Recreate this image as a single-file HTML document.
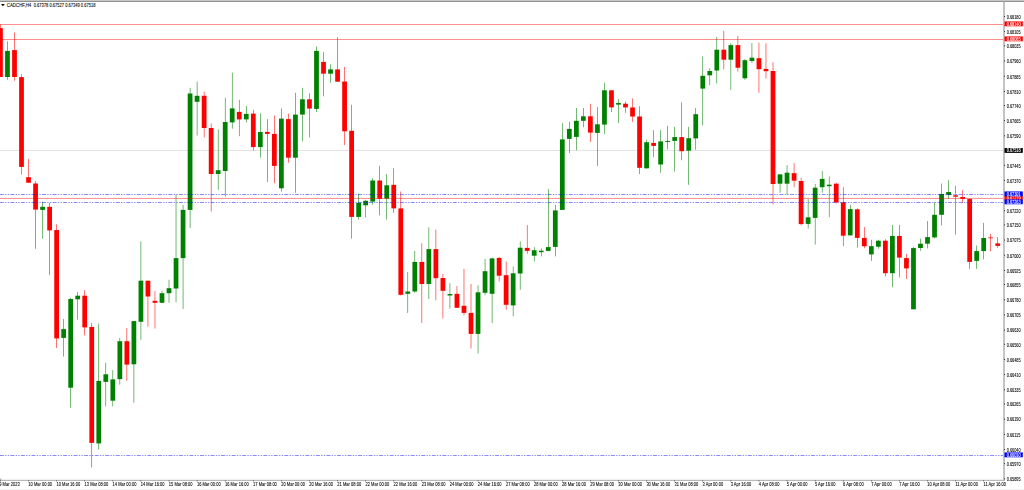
<!DOCTYPE html><html><head><meta charset="utf-8"><title>CADCHF,H4</title>
<style>html,body{margin:0;padding:0;background:#fff;overflow:hidden}svg{display:block}text{font-family:"Liberation Sans",sans-serif;font-size:4.05px;fill:#000;stroke:#000;stroke-width:0.07px}</style></head><body>
<svg width="1024" height="490" viewBox="0 0 1024 490">
<rect x="0" y="0" width="1024" height="490" fill="#fff"/>
<rect x="0" y="0" width="1024" height="1.0" fill="#c6c6c6"/>
<rect x="0" y="1.0" width="1024" height="0.75" fill="#6c6c6c"/>
<rect x="0" y="489" width="1024" height="1" fill="#f0f0f0"/>
<line x1="0" y1="150.45" x2="1004.00" y2="150.45" stroke="#c0c0c0" stroke-width="0.45"/>
<g>
<rect x="0.17" y="24.50" width="0.55" height="52.50" fill="#ff0000"/>
<rect x="-1.93" y="28.10" width="4.75" height="48.90" fill="#ff0000"/>
<rect x="7.20" y="41.30" width="0.55" height="38.40" fill="#008000"/>
<rect x="5.10" y="50.90" width="4.75" height="26.10" fill="#008000"/>
<rect x="14.22" y="32.30" width="0.55" height="48.50" fill="#ff0000"/>
<rect x="12.12" y="50.10" width="4.75" height="26.90" fill="#ff0000"/>
<rect x="21.24" y="74.10" width="0.55" height="100.40" fill="#ff0000"/>
<rect x="19.14" y="77.10" width="4.75" height="89.80" fill="#ff0000"/>
<rect x="28.27" y="158.90" width="0.55" height="23.80" fill="#ff0000"/>
<rect x="26.17" y="177.20" width="4.75" height="5.50" fill="#ff0000"/>
<rect x="35.29" y="181.00" width="0.55" height="67.80" fill="#ff0000"/>
<rect x="33.19" y="183.50" width="4.75" height="26.10" fill="#ff0000"/>
<rect x="42.31" y="201.60" width="0.55" height="37.10" fill="#008000"/>
<rect x="40.21" y="206.80" width="4.75" height="3.10" fill="#008000"/>
<rect x="49.34" y="202.80" width="0.55" height="72.40" fill="#ff0000"/>
<rect x="47.24" y="206.80" width="4.75" height="23.60" fill="#ff0000"/>
<rect x="56.36" y="224.20" width="0.55" height="123.80" fill="#ff0000"/>
<rect x="54.26" y="230.00" width="4.75" height="108.40" fill="#ff0000"/>
<rect x="63.38" y="319.00" width="0.55" height="37.50" fill="#008000"/>
<rect x="61.28" y="329.10" width="4.75" height="8.80" fill="#008000"/>
<rect x="70.41" y="297.80" width="0.55" height="109.90" fill="#008000"/>
<rect x="68.31" y="299.00" width="4.75" height="88.70" fill="#008000"/>
<rect x="77.43" y="292.00" width="0.55" height="27.60" fill="#008000"/>
<rect x="75.33" y="295.70" width="4.75" height="3.60" fill="#008000"/>
<rect x="84.45" y="290.20" width="0.55" height="45.20" fill="#ff0000"/>
<rect x="82.35" y="295.70" width="4.75" height="31.70" fill="#ff0000"/>
<rect x="91.48" y="322.90" width="0.55" height="144.60" fill="#ff0000"/>
<rect x="89.38" y="326.90" width="4.75" height="116.00" fill="#ff0000"/>
<rect x="98.50" y="323.60" width="0.55" height="126.00" fill="#008000"/>
<rect x="96.40" y="380.90" width="4.75" height="62.50" fill="#008000"/>
<rect x="105.52" y="362.60" width="0.55" height="43.90" fill="#008000"/>
<rect x="103.42" y="374.30" width="4.75" height="7.60" fill="#008000"/>
<rect x="112.55" y="370.10" width="0.55" height="36.40" fill="#008000"/>
<rect x="110.45" y="379.40" width="4.75" height="21.30" fill="#008000"/>
<rect x="119.57" y="337.90" width="0.55" height="46.70" fill="#008000"/>
<rect x="117.47" y="341.20" width="4.75" height="37.90" fill="#008000"/>
<rect x="126.59" y="327.90" width="0.55" height="53.00" fill="#ff0000"/>
<rect x="124.49" y="341.20" width="4.75" height="23.40" fill="#ff0000"/>
<rect x="133.62" y="321.10" width="0.55" height="81.60" fill="#008000"/>
<rect x="131.52" y="321.10" width="4.75" height="43.20" fill="#008000"/>
<rect x="140.64" y="241.30" width="0.55" height="98.60" fill="#008000"/>
<rect x="138.54" y="280.70" width="4.75" height="41.10" fill="#008000"/>
<rect x="147.66" y="280.70" width="0.55" height="45.90" fill="#ff0000"/>
<rect x="145.56" y="280.70" width="4.75" height="15.80" fill="#ff0000"/>
<rect x="154.69" y="291.00" width="0.55" height="37.60" fill="#ff0000"/>
<rect x="152.59" y="300.80" width="4.75" height="2.00" fill="#ff0000"/>
<rect x="161.71" y="290.70" width="0.55" height="12.10" fill="#008000"/>
<rect x="159.61" y="293.20" width="4.75" height="9.60" fill="#008000"/>
<rect x="168.73" y="279.70" width="0.55" height="23.10" fill="#008000"/>
<rect x="166.63" y="288.20" width="4.75" height="5.00" fill="#008000"/>
<rect x="175.75" y="194.50" width="0.55" height="107.80" fill="#008000"/>
<rect x="173.66" y="258.10" width="4.75" height="30.40" fill="#008000"/>
<rect x="182.78" y="204.80" width="0.55" height="104.20" fill="#008000"/>
<rect x="180.68" y="209.90" width="4.75" height="48.20" fill="#008000"/>
<rect x="189.80" y="87.80" width="0.55" height="140.20" fill="#008000"/>
<rect x="187.70" y="93.50" width="4.75" height="116.40" fill="#008000"/>
<rect x="196.82" y="81.50" width="0.55" height="54.00" fill="#008000"/>
<rect x="194.72" y="95.80" width="4.75" height="6.00" fill="#008000"/>
<rect x="203.85" y="91.50" width="0.55" height="46.00" fill="#ff0000"/>
<rect x="201.75" y="95.80" width="4.75" height="32.20" fill="#ff0000"/>
<rect x="210.87" y="123.40" width="0.55" height="88.20" fill="#ff0000"/>
<rect x="208.77" y="128.00" width="4.75" height="46.00" fill="#ff0000"/>
<rect x="217.89" y="129.30" width="0.55" height="60.50" fill="#008000"/>
<rect x="215.79" y="170.20" width="4.75" height="3.80" fill="#008000"/>
<rect x="224.92" y="97.80" width="0.55" height="98.80" fill="#008000"/>
<rect x="222.82" y="122.00" width="4.75" height="49.00" fill="#008000"/>
<rect x="231.94" y="72.70" width="0.55" height="56.00" fill="#008000"/>
<rect x="229.84" y="108.40" width="4.75" height="14.00" fill="#008000"/>
<rect x="238.96" y="99.80" width="0.55" height="36.40" fill="#ff0000"/>
<rect x="236.86" y="111.90" width="4.75" height="7.50" fill="#ff0000"/>
<rect x="245.99" y="106.00" width="0.55" height="16.40" fill="#008000"/>
<rect x="243.89" y="113.90" width="4.75" height="5.50" fill="#008000"/>
<rect x="253.01" y="109.90" width="0.55" height="40.70" fill="#ff0000"/>
<rect x="250.91" y="113.60" width="4.75" height="33.50" fill="#ff0000"/>
<rect x="260.03" y="113.40" width="0.55" height="44.30" fill="#008000"/>
<rect x="257.93" y="132.00" width="4.75" height="15.10" fill="#008000"/>
<rect x="267.06" y="119.10" width="0.55" height="62.90" fill="#ff0000"/>
<rect x="264.96" y="131.90" width="4.75" height="2.00" fill="#ff0000"/>
<rect x="274.08" y="115.40" width="0.55" height="67.90" fill="#ff0000"/>
<rect x="271.98" y="133.90" width="4.75" height="32.00" fill="#ff0000"/>
<rect x="281.10" y="108.40" width="0.55" height="83.10" fill="#008000"/>
<rect x="279.00" y="118.60" width="4.75" height="69.70" fill="#008000"/>
<rect x="288.13" y="113.60" width="0.55" height="49.10" fill="#ff0000"/>
<rect x="286.03" y="119.10" width="4.75" height="38.60" fill="#ff0000"/>
<rect x="295.15" y="92.80" width="0.55" height="100.00" fill="#008000"/>
<rect x="293.05" y="114.60" width="4.75" height="43.10" fill="#008000"/>
<rect x="302.17" y="87.80" width="0.55" height="53.40" fill="#008000"/>
<rect x="300.07" y="99.30" width="4.75" height="15.30" fill="#008000"/>
<rect x="309.20" y="93.30" width="0.55" height="44.20" fill="#ff0000"/>
<rect x="307.10" y="99.30" width="4.75" height="9.30" fill="#ff0000"/>
<rect x="316.22" y="46.40" width="0.55" height="65.70" fill="#008000"/>
<rect x="314.12" y="50.90" width="4.75" height="58.00" fill="#008000"/>
<rect x="323.24" y="52.10" width="0.55" height="44.20" fill="#ff0000"/>
<rect x="321.14" y="61.90" width="4.75" height="11.80" fill="#ff0000"/>
<rect x="330.27" y="64.40" width="0.55" height="18.40" fill="#008000"/>
<rect x="328.17" y="69.40" width="4.75" height="4.30" fill="#008000"/>
<rect x="337.29" y="37.10" width="0.55" height="44.60" fill="#ff0000"/>
<rect x="335.19" y="69.40" width="4.75" height="12.30" fill="#ff0000"/>
<rect x="344.31" y="66.90" width="0.55" height="78.20" fill="#ff0000"/>
<rect x="342.21" y="81.50" width="4.75" height="49.80" fill="#ff0000"/>
<rect x="351.34" y="104.80" width="0.55" height="133.90" fill="#ff0000"/>
<rect x="349.24" y="130.80" width="4.75" height="86.10" fill="#ff0000"/>
<rect x="358.36" y="193.50" width="0.55" height="26.10" fill="#008000"/>
<rect x="356.26" y="202.80" width="4.75" height="14.10" fill="#008000"/>
<rect x="365.38" y="199.80" width="0.55" height="17.60" fill="#008000"/>
<rect x="363.28" y="200.80" width="4.75" height="4.50" fill="#008000"/>
<rect x="372.40" y="178.20" width="0.55" height="26.40" fill="#008000"/>
<rect x="370.30" y="180.50" width="4.75" height="21.10" fill="#008000"/>
<rect x="379.43" y="165.90" width="0.55" height="49.50" fill="#ff0000"/>
<rect x="377.33" y="180.50" width="4.75" height="18.30" fill="#ff0000"/>
<rect x="386.45" y="174.00" width="0.55" height="45.60" fill="#008000"/>
<rect x="384.35" y="185.30" width="4.75" height="13.30" fill="#008000"/>
<rect x="393.47" y="168.20" width="0.55" height="44.70" fill="#ff0000"/>
<rect x="391.37" y="184.80" width="4.75" height="23.60" fill="#ff0000"/>
<rect x="400.50" y="191.50" width="0.55" height="104.00" fill="#ff0000"/>
<rect x="398.40" y="208.40" width="4.75" height="86.40" fill="#ff0000"/>
<rect x="407.52" y="271.90" width="0.55" height="41.00" fill="#008000"/>
<rect x="405.42" y="291.50" width="4.75" height="2.30" fill="#008000"/>
<rect x="414.54" y="250.90" width="0.55" height="41.90" fill="#008000"/>
<rect x="412.44" y="261.90" width="4.75" height="29.60" fill="#008000"/>
<rect x="421.57" y="243.30" width="0.55" height="79.60" fill="#ff0000"/>
<rect x="419.47" y="261.90" width="4.75" height="22.10" fill="#ff0000"/>
<rect x="428.59" y="227.30" width="0.55" height="71.70" fill="#008000"/>
<rect x="426.49" y="249.10" width="4.75" height="34.90" fill="#008000"/>
<rect x="435.61" y="229.60" width="0.55" height="70.70" fill="#ff0000"/>
<rect x="433.51" y="249.10" width="4.75" height="29.10" fill="#ff0000"/>
<rect x="442.64" y="273.90" width="0.55" height="44.70" fill="#ff0000"/>
<rect x="440.54" y="278.00" width="4.75" height="12.80" fill="#ff0000"/>
<rect x="449.66" y="283.20" width="0.55" height="25.40" fill="#008000"/>
<rect x="447.56" y="294.00" width="4.75" height="1.50" fill="#008000"/>
<rect x="456.68" y="286.00" width="0.55" height="21.80" fill="#ff0000"/>
<rect x="454.58" y="293.80" width="4.75" height="14.00" fill="#ff0000"/>
<rect x="463.71" y="268.90" width="0.55" height="46.50" fill="#ff0000"/>
<rect x="461.61" y="305.80" width="4.75" height="7.10" fill="#ff0000"/>
<rect x="470.73" y="284.00" width="0.55" height="64.50" fill="#ff0000"/>
<rect x="468.63" y="312.90" width="4.75" height="21.00" fill="#ff0000"/>
<rect x="477.75" y="285.20" width="0.55" height="68.30" fill="#008000"/>
<rect x="475.65" y="292.30" width="4.75" height="41.60" fill="#008000"/>
<rect x="484.78" y="258.90" width="0.55" height="36.40" fill="#008000"/>
<rect x="482.68" y="271.20" width="4.75" height="21.60" fill="#008000"/>
<rect x="491.80" y="257.60" width="0.55" height="65.30" fill="#008000"/>
<rect x="489.70" y="258.40" width="4.75" height="35.40" fill="#008000"/>
<rect x="498.82" y="257.10" width="0.55" height="24.40" fill="#ff0000"/>
<rect x="496.72" y="257.90" width="4.75" height="17.80" fill="#ff0000"/>
<rect x="505.85" y="261.40" width="0.55" height="48.40" fill="#ff0000"/>
<rect x="503.75" y="275.20" width="4.75" height="29.60" fill="#ff0000"/>
<rect x="512.87" y="266.50" width="0.55" height="49.80" fill="#008000"/>
<rect x="510.77" y="273.30" width="4.75" height="32.10" fill="#008000"/>
<rect x="519.89" y="241.40" width="0.55" height="48.40" fill="#008000"/>
<rect x="517.79" y="247.70" width="4.75" height="25.80" fill="#008000"/>
<rect x="526.92" y="225.10" width="0.55" height="28.80" fill="#ff0000"/>
<rect x="524.82" y="247.90" width="4.75" height="3.00" fill="#ff0000"/>
<rect x="533.94" y="247.10" width="0.55" height="14.40" fill="#008000"/>
<rect x="531.84" y="250.20" width="4.75" height="5.50" fill="#008000"/>
<rect x="540.96" y="248.40" width="0.55" height="8.00" fill="#008000"/>
<rect x="538.86" y="250.70" width="4.75" height="1.50" fill="#008000"/>
<rect x="547.98" y="189.10" width="0.55" height="61.80" fill="#008000"/>
<rect x="545.88" y="247.10" width="4.75" height="3.80" fill="#008000"/>
<rect x="555.01" y="204.90" width="0.55" height="51.50" fill="#008000"/>
<rect x="552.91" y="210.40" width="4.75" height="36.50" fill="#008000"/>
<rect x="562.03" y="123.30" width="0.55" height="86.60" fill="#008000"/>
<rect x="559.93" y="139.40" width="4.75" height="70.50" fill="#008000"/>
<rect x="569.05" y="121.80" width="0.55" height="31.40" fill="#008000"/>
<rect x="566.95" y="128.90" width="4.75" height="10.00" fill="#008000"/>
<rect x="576.08" y="108.00" width="0.55" height="42.20" fill="#008000"/>
<rect x="573.98" y="120.80" width="4.75" height="16.10" fill="#008000"/>
<rect x="583.10" y="108.00" width="0.55" height="19.30" fill="#008000"/>
<rect x="581.00" y="116.30" width="4.75" height="4.50" fill="#008000"/>
<rect x="590.12" y="103.80" width="0.55" height="38.10" fill="#ff0000"/>
<rect x="588.02" y="116.30" width="4.75" height="16.30" fill="#ff0000"/>
<rect x="597.15" y="107.00" width="0.55" height="59.00" fill="#008000"/>
<rect x="595.05" y="124.30" width="4.75" height="8.60" fill="#008000"/>
<rect x="604.17" y="82.80" width="0.55" height="51.10" fill="#008000"/>
<rect x="602.07" y="90.30" width="4.75" height="34.30" fill="#008000"/>
<rect x="611.19" y="90.30" width="0.55" height="21.70" fill="#ff0000"/>
<rect x="609.09" y="90.30" width="4.75" height="17.10" fill="#ff0000"/>
<rect x="618.22" y="99.10" width="0.55" height="23.90" fill="#008000"/>
<rect x="616.12" y="103.00" width="4.75" height="1.60" fill="#008000"/>
<rect x="625.24" y="101.60" width="0.55" height="11.20" fill="#ff0000"/>
<rect x="623.14" y="103.70" width="4.75" height="3.70" fill="#ff0000"/>
<rect x="632.26" y="98.40" width="0.55" height="23.40" fill="#ff0000"/>
<rect x="630.16" y="107.50" width="4.75" height="9.00" fill="#ff0000"/>
<rect x="639.29" y="106.20" width="0.55" height="67.80" fill="#ff0000"/>
<rect x="637.19" y="116.50" width="4.75" height="51.30" fill="#ff0000"/>
<rect x="646.31" y="139.70" width="0.55" height="29.10" fill="#008000"/>
<rect x="644.21" y="142.20" width="4.75" height="26.10" fill="#008000"/>
<rect x="653.33" y="130.10" width="0.55" height="27.10" fill="#ff0000"/>
<rect x="651.23" y="142.90" width="4.75" height="3.00" fill="#ff0000"/>
<rect x="660.36" y="130.10" width="0.55" height="42.70" fill="#008000"/>
<rect x="658.26" y="141.40" width="4.75" height="23.10" fill="#008000"/>
<rect x="667.38" y="125.90" width="0.55" height="23.50" fill="#008000"/>
<rect x="665.28" y="140.90" width="4.75" height="1.00" fill="#008000"/>
<rect x="674.40" y="126.90" width="0.55" height="44.60" fill="#008000"/>
<rect x="672.30" y="137.10" width="4.75" height="3.80" fill="#008000"/>
<rect x="681.43" y="102.30" width="0.55" height="57.90" fill="#ff0000"/>
<rect x="679.33" y="137.10" width="4.75" height="14.10" fill="#ff0000"/>
<rect x="688.45" y="126.90" width="0.55" height="57.90" fill="#008000"/>
<rect x="686.35" y="138.20" width="4.75" height="12.50" fill="#008000"/>
<rect x="695.47" y="108.00" width="0.55" height="41.70" fill="#008000"/>
<rect x="693.37" y="114.20" width="4.75" height="24.20" fill="#008000"/>
<rect x="702.50" y="56.40" width="0.55" height="69.10" fill="#008000"/>
<rect x="700.40" y="75.80" width="4.75" height="12.80" fill="#008000"/>
<rect x="709.52" y="68.20" width="0.55" height="17.10" fill="#008000"/>
<rect x="707.42" y="71.00" width="4.75" height="4.30" fill="#008000"/>
<rect x="716.54" y="36.90" width="0.55" height="46.60" fill="#008000"/>
<rect x="714.44" y="49.70" width="4.75" height="20.80" fill="#008000"/>
<rect x="723.56" y="30.80" width="0.55" height="38.70" fill="#ff0000"/>
<rect x="721.46" y="49.70" width="4.75" height="10.00" fill="#ff0000"/>
<rect x="730.59" y="43.10" width="0.55" height="46.70" fill="#008000"/>
<rect x="728.49" y="45.10" width="4.75" height="14.60" fill="#008000"/>
<rect x="737.61" y="35.90" width="0.55" height="35.60" fill="#ff0000"/>
<rect x="735.51" y="45.10" width="4.75" height="22.60" fill="#ff0000"/>
<rect x="744.63" y="58.90" width="0.55" height="20.90" fill="#008000"/>
<rect x="742.53" y="60.20" width="4.75" height="18.10" fill="#008000"/>
<rect x="751.66" y="43.10" width="0.55" height="19.90" fill="#008000"/>
<rect x="749.56" y="57.70" width="4.75" height="3.30" fill="#008000"/>
<rect x="758.68" y="42.60" width="0.55" height="50.20" fill="#ff0000"/>
<rect x="756.58" y="58.20" width="4.75" height="11.00" fill="#ff0000"/>
<rect x="765.70" y="43.30" width="0.55" height="35.20" fill="#ff0000"/>
<rect x="763.60" y="68.90" width="4.75" height="2.30" fill="#ff0000"/>
<rect x="772.73" y="62.20" width="0.55" height="142.30" fill="#ff0000"/>
<rect x="770.63" y="71.00" width="4.75" height="113.00" fill="#ff0000"/>
<rect x="779.75" y="173.90" width="0.55" height="18.80" fill="#008000"/>
<rect x="777.65" y="174.40" width="4.75" height="9.30" fill="#008000"/>
<rect x="786.77" y="165.10" width="0.55" height="29.70" fill="#008000"/>
<rect x="784.67" y="172.70" width="4.75" height="11.00" fill="#008000"/>
<rect x="793.80" y="163.10" width="0.55" height="24.10" fill="#ff0000"/>
<rect x="791.70" y="173.20" width="4.75" height="7.50" fill="#ff0000"/>
<rect x="800.82" y="177.70" width="0.55" height="47.70" fill="#ff0000"/>
<rect x="798.72" y="181.00" width="4.75" height="43.10" fill="#ff0000"/>
<rect x="807.84" y="199.00" width="0.55" height="29.60" fill="#008000"/>
<rect x="805.74" y="217.30" width="4.75" height="6.60" fill="#008000"/>
<rect x="814.87" y="184.00" width="0.55" height="60.70" fill="#008000"/>
<rect x="812.77" y="187.70" width="4.75" height="30.20" fill="#008000"/>
<rect x="821.89" y="170.90" width="0.55" height="21.80" fill="#008000"/>
<rect x="819.79" y="178.90" width="4.75" height="8.30" fill="#008000"/>
<rect x="828.91" y="176.40" width="0.55" height="40.90" fill="#008000"/>
<rect x="826.81" y="184.70" width="4.75" height="1.50" fill="#008000"/>
<rect x="835.94" y="182.70" width="0.55" height="20.80" fill="#ff0000"/>
<rect x="833.84" y="183.70" width="4.75" height="18.60" fill="#ff0000"/>
<rect x="842.96" y="187.20" width="0.55" height="59.00" fill="#ff0000"/>
<rect x="840.86" y="202.30" width="4.75" height="33.40" fill="#ff0000"/>
<rect x="849.98" y="204.80" width="0.55" height="30.60" fill="#008000"/>
<rect x="847.88" y="209.10" width="4.75" height="26.30" fill="#008000"/>
<rect x="857.01" y="208.30" width="0.55" height="39.20" fill="#ff0000"/>
<rect x="854.91" y="209.30" width="4.75" height="28.60" fill="#ff0000"/>
<rect x="864.03" y="227.10" width="0.55" height="21.10" fill="#ff0000"/>
<rect x="861.93" y="237.90" width="4.75" height="8.30" fill="#ff0000"/>
<rect x="871.05" y="239.80" width="0.55" height="21.10" fill="#008000"/>
<rect x="868.95" y="246.20" width="4.75" height="8.20" fill="#008000"/>
<rect x="878.08" y="239.70" width="0.55" height="9.00" fill="#008000"/>
<rect x="875.98" y="240.70" width="4.75" height="6.00" fill="#008000"/>
<rect x="885.10" y="239.20" width="0.55" height="37.30" fill="#ff0000"/>
<rect x="883.00" y="240.70" width="4.75" height="32.50" fill="#ff0000"/>
<rect x="892.12" y="224.90" width="0.55" height="62.30" fill="#008000"/>
<rect x="890.02" y="235.90" width="4.75" height="37.30" fill="#008000"/>
<rect x="899.14" y="224.90" width="0.55" height="52.30" fill="#ff0000"/>
<rect x="897.04" y="235.90" width="4.75" height="21.70" fill="#ff0000"/>
<rect x="906.17" y="253.90" width="0.55" height="25.10" fill="#ff0000"/>
<rect x="904.07" y="258.10" width="4.75" height="10.30" fill="#ff0000"/>
<rect x="913.19" y="247.00" width="0.55" height="62.30" fill="#008000"/>
<rect x="911.09" y="248.10" width="4.75" height="61.20" fill="#008000"/>
<rect x="920.21" y="238.60" width="0.55" height="12.20" fill="#008000"/>
<rect x="918.11" y="243.70" width="4.75" height="4.30" fill="#008000"/>
<rect x="927.24" y="221.10" width="0.55" height="27.30" fill="#008000"/>
<rect x="925.14" y="237.10" width="4.75" height="6.60" fill="#008000"/>
<rect x="934.26" y="202.30" width="0.55" height="36.30" fill="#008000"/>
<rect x="932.16" y="214.80" width="4.75" height="22.60" fill="#008000"/>
<rect x="941.28" y="183.50" width="0.55" height="41.90" fill="#008000"/>
<rect x="939.18" y="194.00" width="4.75" height="20.80" fill="#008000"/>
<rect x="948.31" y="180.20" width="0.55" height="18.80" fill="#008000"/>
<rect x="946.21" y="192.00" width="4.75" height="2.90" fill="#008000"/>
<rect x="955.33" y="185.70" width="0.55" height="48.90" fill="#ff0000"/>
<rect x="953.23" y="195.30" width="4.75" height="1.40" fill="#ff0000"/>
<rect x="962.35" y="190.20" width="0.55" height="12.60" fill="#ff0000"/>
<rect x="960.25" y="197.00" width="4.75" height="1.80" fill="#ff0000"/>
<rect x="969.38" y="198.80" width="0.55" height="70.10" fill="#ff0000"/>
<rect x="967.28" y="198.90" width="4.75" height="63.00" fill="#ff0000"/>
<rect x="976.40" y="245.50" width="0.55" height="23.40" fill="#008000"/>
<rect x="974.30" y="251.10" width="4.75" height="9.80" fill="#008000"/>
<rect x="983.42" y="222.90" width="0.55" height="36.50" fill="#008000"/>
<rect x="981.32" y="238.00" width="4.75" height="13.10" fill="#008000"/>
<rect x="990.45" y="233.90" width="0.55" height="17.60" fill="#ff0000"/>
<rect x="988.35" y="237.45" width="4.75" height="0.80" fill="#ff0000"/>
<rect x="997.47" y="237.10" width="0.55" height="10.70" fill="#ff0000"/>
<rect x="995.37" y="243.40" width="4.75" height="2.50" fill="#ff0000"/>
</g>
<line x1="0" y1="24.50" x2="1004.00" y2="24.50" stroke="#ff0000" stroke-width="0.45"/>
<line x1="0" y1="39.50" x2="1004.00" y2="39.50" stroke="#ff0000" stroke-width="0.45"/>
<line x1="0" y1="198.45" x2="1004.00" y2="198.45" stroke="#ff0000" stroke-width="0.45"/>
<line x1="0" y1="194.50" x2="1004.00" y2="194.50" stroke="#0000ff" stroke-width="0.47" stroke-dasharray="3.95 1.317 1.317 1.317 1.317 1.317" stroke-dashoffset="0.12"/>
<line x1="0" y1="202.50" x2="1004.00" y2="202.50" stroke="#0000ff" stroke-width="0.47" stroke-dasharray="3.95 1.317 1.317 1.317 1.317 1.317" stroke-dashoffset="0.12"/>
<line x1="0" y1="455.50" x2="1004.00" y2="455.50" stroke="#0000ff" stroke-width="0.47" stroke-dasharray="3.95 1.317 1.317 1.317 1.317 1.317" stroke-dashoffset="0.12"/>
<rect x="1003.0" y="1.75" width="2.0" height="478.8" fill="#c4c4c4"/>
<rect x="0" y="479.85" width="1004.7" height="0.75" fill="#8a8a8a"/>
<g opacity="0.999">
<rect x="1004.0" y="16.01" width="1.0" height="0.9" fill="#222"/>
<text transform="translate(1006.65,18.81) scale(0.96,1.17)">0.68180</text>
<rect x="1004.0" y="31.18" width="1.0" height="0.9" fill="#222"/>
<text transform="translate(1006.65,33.98) scale(0.96,1.17)">0.68105</text>
<rect x="1004.0" y="45.35" width="1.0" height="0.9" fill="#222"/>
<text transform="translate(1006.65,48.15) scale(0.96,1.17)">0.68035</text>
<rect x="1004.0" y="60.52" width="1.0" height="0.9" fill="#222"/>
<text transform="translate(1006.65,63.32) scale(0.96,1.17)">0.67960</text>
<rect x="1004.0" y="75.70" width="1.0" height="0.9" fill="#222"/>
<text transform="translate(1006.65,78.50) scale(0.96,1.17)">0.67885</text>
<rect x="1004.0" y="90.88" width="1.0" height="0.9" fill="#222"/>
<text transform="translate(1006.65,93.68) scale(0.96,1.17)">0.67810</text>
<rect x="1004.0" y="105.04" width="1.0" height="0.9" fill="#222"/>
<text transform="translate(1006.65,107.84) scale(0.96,1.17)">0.67740</text>
<rect x="1004.0" y="120.22" width="1.0" height="0.9" fill="#222"/>
<text transform="translate(1006.65,123.02) scale(0.96,1.17)">0.67665</text>
<rect x="1004.0" y="135.39" width="1.0" height="0.9" fill="#222"/>
<text transform="translate(1006.65,138.19) scale(0.96,1.17)">0.67590</text>
<rect x="1004.0" y="164.73" width="1.0" height="0.9" fill="#222"/>
<text transform="translate(1006.65,167.53) scale(0.96,1.17)">0.67445</text>
<rect x="1004.0" y="179.91" width="1.0" height="0.9" fill="#222"/>
<text transform="translate(1006.65,182.71) scale(0.96,1.17)">0.67370</text>
<rect x="1004.0" y="210.26" width="1.0" height="0.9" fill="#222"/>
<text transform="translate(1006.65,213.06) scale(0.96,1.17)">0.67220</text>
<rect x="1004.0" y="224.43" width="1.0" height="0.9" fill="#222"/>
<text transform="translate(1006.65,227.23) scale(0.96,1.17)">0.67150</text>
<rect x="1004.0" y="239.60" width="1.0" height="0.9" fill="#222"/>
<text transform="translate(1006.65,242.40) scale(0.96,1.17)">0.67075</text>
<rect x="1004.0" y="254.78" width="1.0" height="0.9" fill="#222"/>
<text transform="translate(1006.65,257.58) scale(0.96,1.17)">0.67000</text>
<rect x="1004.0" y="269.96" width="1.0" height="0.9" fill="#222"/>
<text transform="translate(1006.65,272.76) scale(0.96,1.17)">0.66925</text>
<rect x="1004.0" y="284.12" width="1.0" height="0.9" fill="#222"/>
<text transform="translate(1006.65,286.92) scale(0.96,1.17)">0.66855</text>
<rect x="1004.0" y="299.30" width="1.0" height="0.9" fill="#222"/>
<text transform="translate(1006.65,302.10) scale(0.96,1.17)">0.66780</text>
<rect x="1004.0" y="314.47" width="1.0" height="0.9" fill="#222"/>
<text transform="translate(1006.65,317.27) scale(0.96,1.17)">0.66705</text>
<rect x="1004.0" y="329.65" width="1.0" height="0.9" fill="#222"/>
<text transform="translate(1006.65,332.45) scale(0.96,1.17)">0.66630</text>
<rect x="1004.0" y="343.81" width="1.0" height="0.9" fill="#222"/>
<text transform="translate(1006.65,346.61) scale(0.96,1.17)">0.66560</text>
<rect x="1004.0" y="358.99" width="1.0" height="0.9" fill="#222"/>
<text transform="translate(1006.65,361.79) scale(0.96,1.17)">0.66485</text>
<rect x="1004.0" y="374.17" width="1.0" height="0.9" fill="#222"/>
<text transform="translate(1006.65,376.97) scale(0.96,1.17)">0.66410</text>
<rect x="1004.0" y="389.34" width="1.0" height="0.9" fill="#222"/>
<text transform="translate(1006.65,392.14) scale(0.96,1.17)">0.66335</text>
<rect x="1004.0" y="403.51" width="1.0" height="0.9" fill="#222"/>
<text transform="translate(1006.65,406.31) scale(0.96,1.17)">0.66265</text>
<rect x="1004.0" y="418.68" width="1.0" height="0.9" fill="#222"/>
<text transform="translate(1006.65,421.48) scale(0.96,1.17)">0.66190</text>
<rect x="1004.0" y="433.86" width="1.0" height="0.9" fill="#222"/>
<text transform="translate(1006.65,436.66) scale(0.96,1.17)">0.66115</text>
<rect x="1004.0" y="449.04" width="1.0" height="0.9" fill="#222"/>
<text transform="translate(1006.65,451.84) scale(0.96,1.17)">0.66040</text>
<rect x="1004.0" y="463.20" width="1.0" height="0.9" fill="#222"/>
<text transform="translate(1006.65,466.00) scale(0.96,1.17)">0.65970</text>
<rect x="1004.0" y="478.38" width="1.0" height="0.9" fill="#222"/>
<text transform="translate(1006.65,481.18) scale(0.96,1.17)">0.65895</text>
<rect x="1004.5" y="21.43" width="18.3" height="4.85" fill="#ff0000"/>
<text transform="translate(1006.65,25.85) scale(0.96,1.17)" style="fill:#fff;stroke:#fff">0.68140</text>
<rect x="1004.5" y="36.43" width="18.3" height="4.85" fill="#ff0000"/>
<text transform="translate(1006.65,40.85) scale(0.96,1.17)" style="fill:#fff;stroke:#fff">0.68065</text>
<rect x="1004.5" y="148.03" width="18.3" height="4.85" fill="#000000"/>
<text transform="translate(1006.65,152.45) scale(0.96,1.17)" style="fill:#fff;stroke:#fff">0.67518</text>
<rect x="1004.5" y="195.38" width="18.3" height="4.85" fill="#ff0000"/>
<text transform="translate(1006.65,199.80) scale(0.96,1.17)" style="fill:#fff;stroke:#fff">0.67279</text>
<rect x="1004.5" y="191.43" width="18.3" height="4.85" fill="#0000ff"/>
<text transform="translate(1006.65,195.85) scale(0.96,1.17)" style="fill:#fff;stroke:#fff">0.67301</text>
<rect x="1004.5" y="199.43" width="18.3" height="4.85" fill="#0000ff"/>
<text transform="translate(1006.65,203.85) scale(0.96,1.17)" style="fill:#fff;stroke:#fff">0.67263</text>
<rect x="1004.5" y="452.43" width="18.3" height="4.85" fill="#0000ff"/>
<text transform="translate(1006.65,456.85) scale(0.96,1.17)" style="fill:#fff;stroke:#fff">0.66010</text>
<rect x="0.15" y="480.3" width="0.6" height="1.2" fill="#333"/>
<text transform="translate(-0.75,485.75) scale(1,1.17)">9 Mar 2023</text>
<rect x="28.24" y="480.3" width="0.6" height="1.2" fill="#333"/>
<text transform="translate(28.34,485.75) scale(1,1.17)">10 Mar 00:00</text>
<rect x="56.34" y="480.3" width="0.6" height="1.2" fill="#333"/>
<text transform="translate(56.44,485.75) scale(1,1.17)">10 Mar 16:00</text>
<rect x="84.43" y="480.3" width="0.6" height="1.2" fill="#333"/>
<text transform="translate(84.53,485.75) scale(1,1.17)">13 Mar 08:00</text>
<rect x="112.52" y="480.3" width="0.6" height="1.2" fill="#333"/>
<text transform="translate(112.62,485.75) scale(1,1.17)">14 Mar 00:00</text>
<rect x="140.61" y="480.3" width="0.6" height="1.2" fill="#333"/>
<text transform="translate(140.71,485.75) scale(1,1.17)">14 Mar 16:00</text>
<rect x="168.71" y="480.3" width="0.6" height="1.2" fill="#333"/>
<text transform="translate(168.81,485.75) scale(1,1.17)">15 Mar 08:00</text>
<rect x="196.80" y="480.3" width="0.6" height="1.2" fill="#333"/>
<text transform="translate(196.90,485.75) scale(1,1.17)">16 Mar 00:00</text>
<rect x="224.89" y="480.3" width="0.6" height="1.2" fill="#333"/>
<text transform="translate(224.99,485.75) scale(1,1.17)">16 Mar 16:00</text>
<rect x="252.99" y="480.3" width="0.6" height="1.2" fill="#333"/>
<text transform="translate(253.09,485.75) scale(1,1.17)">17 Mar 08:00</text>
<rect x="281.08" y="480.3" width="0.6" height="1.2" fill="#333"/>
<text transform="translate(281.18,485.75) scale(1,1.17)">20 Mar 00:00</text>
<rect x="309.17" y="480.3" width="0.6" height="1.2" fill="#333"/>
<text transform="translate(309.27,485.75) scale(1,1.17)">20 Mar 16:00</text>
<rect x="337.26" y="480.3" width="0.6" height="1.2" fill="#333"/>
<text transform="translate(337.36,485.75) scale(1,1.17)">21 Mar 08:00</text>
<rect x="365.36" y="480.3" width="0.6" height="1.2" fill="#333"/>
<text transform="translate(365.46,485.75) scale(1,1.17)">22 Mar 00:00</text>
<rect x="393.45" y="480.3" width="0.6" height="1.2" fill="#333"/>
<text transform="translate(393.55,485.75) scale(1,1.17)">22 Mar 16:00</text>
<rect x="421.54" y="480.3" width="0.6" height="1.2" fill="#333"/>
<text transform="translate(421.64,485.75) scale(1,1.17)">23 Mar 08:00</text>
<rect x="449.63" y="480.3" width="0.6" height="1.2" fill="#333"/>
<text transform="translate(449.73,485.75) scale(1,1.17)">24 Mar 00:00</text>
<rect x="477.73" y="480.3" width="0.6" height="1.2" fill="#333"/>
<text transform="translate(477.83,485.75) scale(1,1.17)">24 Mar 16:00</text>
<rect x="505.82" y="480.3" width="0.6" height="1.2" fill="#333"/>
<text transform="translate(505.92,485.75) scale(1,1.17)">27 Mar 08:00</text>
<rect x="533.91" y="480.3" width="0.6" height="1.2" fill="#333"/>
<text transform="translate(534.01,485.75) scale(1,1.17)">28 Mar 00:00</text>
<rect x="562.01" y="480.3" width="0.6" height="1.2" fill="#333"/>
<text transform="translate(562.11,485.75) scale(1,1.17)">28 Mar 16:00</text>
<rect x="590.10" y="480.3" width="0.6" height="1.2" fill="#333"/>
<text transform="translate(590.20,485.75) scale(1,1.17)">29 Mar 08:00</text>
<rect x="618.19" y="480.3" width="0.6" height="1.2" fill="#333"/>
<text transform="translate(618.29,485.75) scale(1,1.17)">30 Mar 00:00</text>
<rect x="646.28" y="480.3" width="0.6" height="1.2" fill="#333"/>
<text transform="translate(646.38,485.75) scale(1,1.17)">30 Mar 16:00</text>
<rect x="674.38" y="480.3" width="0.6" height="1.2" fill="#333"/>
<text transform="translate(674.48,485.75) scale(1,1.17)">31 Mar 08:00</text>
<rect x="702.47" y="480.3" width="0.6" height="1.2" fill="#333"/>
<text transform="translate(702.57,485.75) scale(1,1.17)">3 Apr 00:00</text>
<rect x="730.56" y="480.3" width="0.6" height="1.2" fill="#333"/>
<text transform="translate(730.66,485.75) scale(1,1.17)">3 Apr 16:00</text>
<rect x="758.66" y="480.3" width="0.6" height="1.2" fill="#333"/>
<text transform="translate(758.76,485.75) scale(1,1.17)">4 Apr 08:00</text>
<rect x="786.75" y="480.3" width="0.6" height="1.2" fill="#333"/>
<text transform="translate(786.85,485.75) scale(1,1.17)">5 Apr 00:00</text>
<rect x="814.84" y="480.3" width="0.6" height="1.2" fill="#333"/>
<text transform="translate(814.94,485.75) scale(1,1.17)">5 Apr 16:00</text>
<rect x="842.93" y="480.3" width="0.6" height="1.2" fill="#333"/>
<text transform="translate(843.03,485.75) scale(1,1.17)">6 Apr 08:00</text>
<rect x="871.03" y="480.3" width="0.6" height="1.2" fill="#333"/>
<text transform="translate(871.13,485.75) scale(1,1.17)">7 Apr 00:00</text>
<rect x="899.12" y="480.3" width="0.6" height="1.2" fill="#333"/>
<text transform="translate(899.22,485.75) scale(1,1.17)">7 Apr 16:00</text>
<rect x="927.21" y="480.3" width="0.6" height="1.2" fill="#333"/>
<text transform="translate(927.31,485.75) scale(1,1.17)">10 Apr 08:00</text>
<rect x="955.31" y="480.3" width="0.6" height="1.2" fill="#333"/>
<text transform="translate(955.41,485.75) scale(1,1.17)">11 Apr 00:00</text>
<rect x="983.40" y="480.3" width="0.6" height="1.2" fill="#333"/>
<text transform="translate(983.50,485.75) scale(1,1.17)">11 Apr 16:00</text>
</g>
<polygon points="0,477.8 1.8,480 0,480" fill="#b4b4b4"/>
<g opacity="0.999">
<polygon points="1.0,3.9 4.8,3.9 2.9,6.25" fill="#000"/>
<text transform="translate(6.8,6.75) scale(1.075,1.17)">CADCHF,H4</text>
<text transform="translate(33.75,6.75) scale(1,1.17)">0.67378 0.67527 0.67349 0.67518</text>
</g>
</svg></body></html>
